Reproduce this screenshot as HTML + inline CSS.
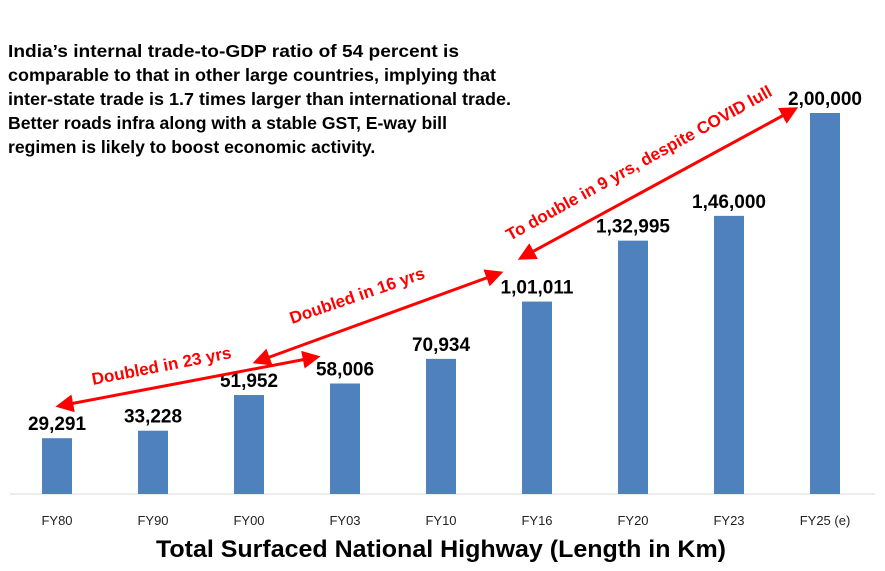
<!DOCTYPE html>
<html><head><meta charset="utf-8"><style>
body{margin:0;background:#fff;}
svg{display:block;font-family:"Liberation Sans",Calibri,sans-serif;}
</style></head><body>
<svg id="chart" width="885" height="571">
<defs><marker id="ah" viewBox="0 0 10 10" refX="8" refY="5" markerWidth="6" markerHeight="6" orient="auto-start-reverse"><path d="M0,0 L10,5 L0,10 z" fill="#f00"/></marker></defs>
<g font-weight="bold" font-size="17.6" fill="#000">
<text x="8" y="57" textLength="451" lengthAdjust="spacingAndGlyphs">India’s internal trade-to-GDP ratio of 54 percent is</text>
<text x="8" y="81" textLength="488" lengthAdjust="spacingAndGlyphs">comparable to that in other large countries, implying that</text>
<text x="8" y="105" textLength="503" lengthAdjust="spacingAndGlyphs">inter-state trade is 1.7 times larger than international trade.</text>
<text x="8" y="129">Better roads infra along with a stable GST, E-way bill</text>
<text x="8" y="153">regimen is likely to boost economic activity.</text>
</g>
<line x1="10" y1="494" x2="875" y2="494" stroke="#d9d9d9"/>
<g id="bars"></g>
<g stroke="#f00" stroke-width="3" fill="none">
<line x1="59" y1="406" x2="317" y2="357" marker-start="url(#ah)" marker-end="url(#ah)"/>
<line x1="256" y1="362" x2="500" y2="273" marker-start="url(#ah)" marker-end="url(#ah)"/>
<line x1="521" y1="258" x2="795" y2="109" marker-start="url(#ah)" marker-end="url(#ah)"/>
</g>
<g fill="#f00" font-weight="bold" font-size="17">
<text transform="translate(93,385) rotate(-11)">Doubled in 23 yrs</text>
<text transform="translate(292,324) rotate(-19)">Doubled in 16 yrs</text>
<text transform="translate(510,241) rotate(-29)">To double in 9 yrs, despite COVID lull</text>
</g>
<text x="441" y="557" text-anchor="middle" font-weight="bold" font-size="24" textLength="570" lengthAdjust="spacingAndGlyphs">Total Surfaced National Highway (Length in Km)</text>
</svg>
<script>
const categories=["FY80","FY90","FY00","FY03","FY10","FY16","FY20","FY23","FY25 (e)"];
const values=[29291,33228,51952,58006,70934,101011,132995,146000,200000];
const valueLabels=["29,291","33,228","51,952","58,006","70,934","1,01,011","1,32,995","1,46,000","2,00,000"];
const ns="http://www.w3.org/2000/svg";
const g=document.getElementById('bars');
const base=494, scaleY=v=>base-v*381/200000, xC=i=>57+i*96;
categories.forEach((c,i)=>{
 const y=scaleY(values[i]);
 const r=document.createElementNS(ns,'rect');
 r.setAttribute('x',xC(i)-15);r.setAttribute('y',y);r.setAttribute('width',30);r.setAttribute('height',base-y);r.setAttribute('fill','#4f81bd');
 
 
 g.appendChild(r);
 const t=document.createElementNS(ns,'text');
 t.setAttribute('x',xC(i));t.setAttribute('y',y-8);t.setAttribute('text-anchor','middle');t.setAttribute('font-weight','bold');t.setAttribute('font-size','19');
 t.textContent=valueLabels[i];
 
 
 g.appendChild(t);
 const l=document.createElementNS(ns,'text');
 l.setAttribute('x',xC(i));l.setAttribute('y',525);l.setAttribute('text-anchor','middle');l.setAttribute('font-size','13');l.setAttribute('fill','#222');
 l.textContent=c;
 
 
 g.appendChild(l);
});
</script>
</body></html>
